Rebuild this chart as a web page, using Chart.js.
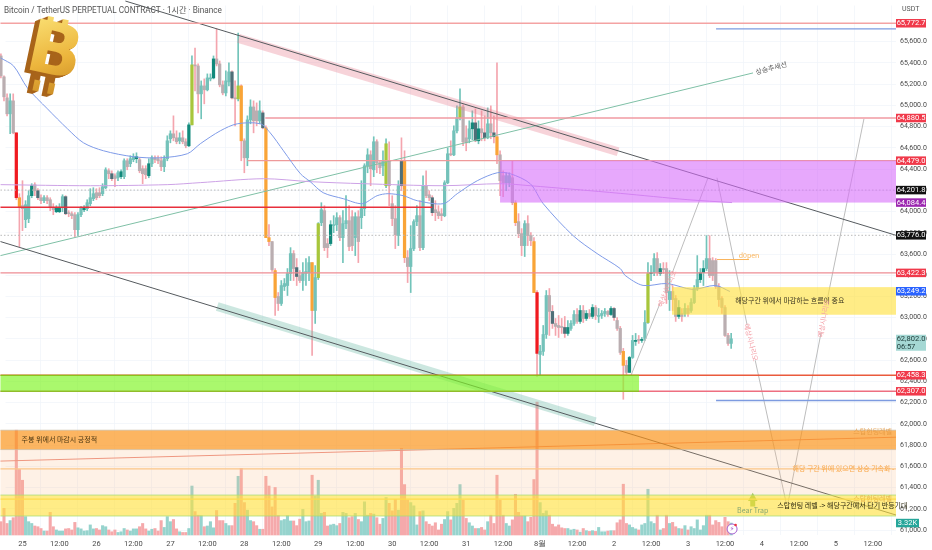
<!DOCTYPE html>
<html>
<head>
<meta charset="utf-8">
<style>
html, body { margin: 0; padding: 0; background: #fff; }
canvas { display: block; }
</style>
<script src="https://cdn.jsdelivr.net/npm/chart.js@4"></script>
</head>
<body>
<canvas id="chartCanvas" width="932" height="550"></canvas>
<script>
// hourly candles, first one is 7 hours before the "25" tick
const firstHour = -7;
const opens = [65465,65268,65070,64920,65042,64741,64130,64055,63923,63933,64149,64252,64196,64130,64102,64130,64111,64036,63998,63998,64036,64140,63989,63979,63970,63829,63970,64017,64027,64074,64121,64177,64177,64168,64224,64384,64356,64337,64318,64328,64328,64478,64450,64488,64497,64488,64403,64403,64337,64450,64506,64497,64478,64422,64497,64685,64732,64694,64666,64694,64657,64619,64816,65381,65371,65108,65183,65146,65249,65258,65437,65390,65193,65117,65221,65315,65070,65061,65183,64666,64506,64863,64985,64948,64854,64929,64788,63754,63717,63444,63200,63134,63294,63303,63416,63604,63472,63397,63350,63416,63425,63519,63068,63378,63895,64008,63698,63698,63867,63876,63942,63754,63886,63914,63951,63754,63951,63942,64027,64431,64534,64393,64657,64459,64431,64243,64478,64074,63933,63773,64478,64478,63566,63482,63651,63905,63961,63660,64243,64158,64130,64017,63998,63979,63961,64271,64544,64534,64760,64882,64985,64694,64685,64779,64835,64666,64779,64741,64694,64826,64741,64704,64534,64337,64271,64271,64318,64083,63905,63792,63679,63886,63773,63717,63237,62654,62683,62842,63209,63059,62946,62927,62918,62908,62852,62899,62946,63030,62965,63068,62993,63040,63012,63096,63012,63021,63040,63059,63030,63087,62974,62899,62683,62551,62485,62626,62777,62795,62786,62805,62955,63416,63425,63557,63416,63463,63463,63171,63247,63181,63012,63040,63040,63087,63068,63143,63275,63359,63425,63463,63557,63538,63538,63294,63181,63096,62833,62758];
const highs = [65484,65277,65108,65108,65108,64741,64168,64290,64102,64196,64262,64271,64215,64158,64149,64149,64130,64074,64055,64074,64158,64149,64008,63998,63989,63989,64046,64055,64111,64215,64224,64215,64224,64262,64412,64403,64384,64356,64384,64393,64497,64497,64525,64544,64553,64506,64431,64431,64497,64525,64525,64525,64516,64525,64713,64760,64901,64760,64741,64760,64685,64835,65465,65540,65390,65230,65249,65296,65296,65465,65719,65418,65230,65324,65399,65324,65230,65681,65193,64685,64901,65052,65042,65023,65042,64948,64807,63876,63717,63463,63237,63350,63369,63463,63660,63632,63557,63444,63519,63557,63576,63519,63491,63895,64083,64055,63745,63914,63961,63989,63961,64008,64149,64055,64008,63989,64008,64290,64450,64591,64572,64704,64676,64478,64572,64685,64657,64149,64055,64290,64694,64572,63632,63867,63923,64055,64102,64337,64384,64196,64149,64102,64055,64027,64290,64600,64666,64807,64995,65155,65004,64807,64854,64948,64967,64854,64948,64901,64976,64995,64901,65399,64572,64384,64365,64365,64478,64102,63980,63839,63914,63961,63801,63754,63256,62739,62927,63256,63275,63115,62993,63021,62993,63012,62974,62974,63068,63087,63115,63115,63068,63077,63124,63115,63087,63068,63087,63068,63106,63096,63002,62918,62711,62598,62636,62833,62852,62833,62814,63068,63519,63491,63604,63613,63510,63519,63519,63444,63303,63209,63162,63087,63134,63115,63181,63303,63585,63463,63538,63773,63773,63566,63557,63322,63200,63115,62852,62852];
const lows = [65258,65042,64901,64732,64732,64111,63670,63820,63848,63895,64130,64149,64111,64074,64083,64074,64008,63970,63989,63989,63998,63970,63951,63933,63764,63773,63951,63998,64008,64055,64102,64111,64130,64149,64215,64309,64290,64234,64290,64309,64309,64393,64422,64469,64459,64365,64262,64309,64318,64422,64459,64450,64384,64375,64478,64647,64666,64638,64638,64638,64600,64610,64816,65136,64929,64873,65014,65136,65230,65249,65371,65174,65099,65089,65183,65061,64807,65042,64478,64365,64431,64826,64741,64807,64826,64779,63754,63679,63435,63021,63068,63115,63256,63209,63350,63350,63303,63331,63256,63303,63350,62645,62946,63359,63867,63632,63566,63679,63801,63820,63726,63519,63839,63632,63632,63585,63519,63839,63961,64365,64243,64328,64365,64356,64337,64224,64055,63867,63651,63679,64196,63519,63331,63237,63632,63867,63632,63641,64130,64102,63961,63914,63933,63914,63951,64262,64525,64525,64741,64863,64619,64572,64647,64676,64657,64638,64666,64666,64685,64685,64647,64450,64149,64140,64196,64234,64064,63867,63754,63585,63576,63679,63679,63237,62448,62457,62645,62805,62833,62899,62833,62814,62852,62814,62833,62880,62927,62946,62946,62955,62974,62993,62993,62983,62955,62993,63012,63012,63021,62974,62880,62654,62232,62467,62485,62617,62739,62758,62767,62786,62946,63350,63397,63397,63397,63416,63134,63068,63068,62965,62993,62965,63012,63012,63049,63134,63256,63331,63303,63444,63378,63350,63275,63106,63040,62824,62739,62711];
const closes = [65277,65080,64920,65042,64741,64130,64036,64027,64064,64149,64243,64196,64130,64102,64130,64102,64036,64017,64036,64036,64140,63979,63979,63961,63829,63970,64036,64036,64083,64130,64168,64130,64149,64234,64393,64356,64309,64309,64365,64375,64478,64422,64497,64516,64516,64384,64356,64346,64450,64506,64488,64478,64422,64497,64666,64732,64694,64657,64694,64657,64619,64816,65381,65371,65108,65183,65146,65258,65258,65437,65390,65193,65117,65230,65315,65070,65061,65183,64666,64506,64863,64985,64854,64854,64948,64788,63754,63717,63453,63190,63134,63303,63322,63416,63604,63463,63388,63350,63425,63435,63519,63068,63378,63886,64017,63660,63660,63876,63876,63942,63754,63886,63914,63670,63679,63951,63717,64027,64431,64534,64403,64657,64459,64412,64478,64638,64243,63933,63782,64243,64243,63566,63482,63651,63905,63961,63660,64243,64149,64130,63989,63989,63961,63961,64271,64544,64534,64760,64882,64985,64657,64647,64779,64835,64666,64779,64741,64694,64826,64741,64704,64534,64290,64271,64337,64337,64083,63895,63792,63679,63886,63773,63726,63237,62664,62683,62842,63209,63059,62946,62918,62908,62908,62852,62908,62946,63030,62965,63068,62993,63040,63012,63096,63021,63021,63040,63059,63030,63087,63002,62899,62673,62551,62485,62626,62786,62786,62786,62795,62955,63416,63425,63557,63425,63463,63453,63237,63247,63171,63012,63096,63012,63087,63040,63143,63275,63359,63425,63463,63557,63397,63397,63294,63171,63096,62833,62758,62802];
// volume in K
const volumes = [3.7,7.4,3.2,4.0,4.8,29.1,18.2,15.2,5.1,3.7,3.2,2.5,2.3,1.8,1.1,1.1,6.3,2.3,1.4,1.1,1.1,1.7,1.8,1.4,3.5,2.0,1.7,1.1,1.2,2.8,1.7,1.8,1.4,2.6,2.3,1.4,0.9,1.4,0.7,0.9,1.8,1.4,1.1,1.7,1.7,2.3,3.2,1.7,1.1,1.6,1.8,1.1,4.0,2.1,5.1,3.7,4.3,1.7,0.9,0.7,0.7,1.8,13.6,6.5,5.5,5.4,2.3,2.5,3.7,2.0,6.8,4.0,4.0,3.2,2.6,2.6,8.8,16.3,18.5,9.0,6.9,4.0,3.7,2.6,1.6,1.6,16.3,13.6,7.8,13.2,5.4,4.0,4.3,5.4,3.9,3.9,2.6,4.4,7.1,3.7,3.9,16.6,10.8,15.2,6.0,6.3,2.5,2.8,3.0,2.6,3.2,6.3,6.0,4.8,5.1,6.0,4.3,3.7,9.2,5.5,6.0,5.8,4.8,3.0,4.6,10.4,8.8,6.7,9.9,6.9,24.0,14.0,9.7,9.0,8.1,2.8,6.5,6.7,3.7,3.0,2.5,3.4,1.4,3.0,4.3,6.5,4.2,7.4,8.8,14.0,9.7,4.6,3.4,2.5,1.8,1.8,2.1,1.4,3.7,5.5,3.2,16.6,9.7,5.5,3.2,2.5,4.2,11.3,6.3,5.3,5.3,3.7,4.9,15.4,36.9,9.0,6.0,6.7,5.5,3.0,2.3,2.8,2.0,1.8,1.8,1.4,1.6,1.4,0.8,1.8,1.2,1.0,1.2,1.0,2.1,0.9,0.9,1.1,1.2,1.2,3.4,4.2,14.1,3.2,2.8,2.1,1.7,1.4,2.8,3.2,12.7,3.7,3.2,5.5,1.4,1.8,5.5,3.2,3.5,2.3,1.8,1.7,2.6,1.4,2.3,1.8,4.2,1.4,2.6,5.5,5.5,2.8,4.0,3.5,2.3,4.9,3.7,3.32];

// candles the indicator paints differently (by hour)
const redCandles = [-2,167];
const orangeCandles = [-1,71,79,80,82,94,124,154,160,166,195];
const limeCandles = [55,70,96,118,142,203];
const darkCandles = [3,5,11,12,14,20,29,32,37,41,54,62,68,78,89,100,123,133,146,147,148,150,153,172,176,177,181,183,185,191,192,197,199,201,204,207,213,220,221];

// moving averages
const blueMaHours = [-7.1,-2.9,1.6,8.1,14.6,19.8,26.3,36,44.8,53.5,57.7,64.2,69.7,77.2,80.4,84.7,90.2,93.4,97.6,104.1,110.3,115.1,118.7,123.6,128.1,136.6,141.1,147.6,154.1,158.3,164.8,169,178.7,186.5,194,195.6,201.4,209.2,217.6,224.8,229.6];
const blueMaPrices = [65446,65371,65164,64967,64779,64647,64572,64516,64506,64544,64638,64760,64826,64826,64741,64572,64356,64281,64177,64121,64074,64149,64168,64149,64102,64074,64168,64290,64365,64356,64262,64074,63773,63604,63463,63398,63304,63322,63266,63304,63247];
const purpleMaHours = [-7.1,22,47,57.7,78.2,93.4,110.6,136.6,155,164.8,194,215.7,230.3];
const purpleMaPrices = [64253,64243,64253,64272,64309,64281,64262,64243,64262,64243,64171,64112,64084];

// horizontal levels
const levelPrices = [65772.7,65720,64880.5,64479,64040,64201.8,63776,63422.3,62458.3,62307,62220,61577,61292];
const levelStarts = [-7.14,225.1,78.8,73,-7.14,-7.14,-7.14,-7.14,-7.14,-7.14,225.1,-7.14,-7.14];
const levelEnds = [283.5,283.5,283.5,283.5,133,283.5,283.5,283.5,283.5,283.5,283.5,283.5,283.5];

// price boxes
const zoneTops = [64479,63288,62458.3,61941,61758,61330];
const zoneBottoms = [64084.4,63028,62307,61758,61330,61133];
const zoneStarts = [155,210.8,-7.14,-7.14,-7.14,-7.14];

// axis tags
const tagPrices = [65772.7,64880.5,64479,64201.8,64084.4,63776,63422.3,63249.2,62458.3,62307];
const tagLabels = ['65,772.7','64,880.5','64,479.0','64,201.8','64,084.4','63,776.0','63,422.3','63,249.2','62,458.3','62,307.0'];

const yTickValues = [61000,61200,61400,61600,61800,62000,62200,62400,62600,62800,63000,63200,63400,63600,63800,64000,64200,64400,64600,64800,65000,65200,65400,65600];
const xTickHours = [0,12,24,36,48,60,72,84,96,108,120,132,144,156,168,180,192,204,216,228,240,252,264,276];
const xTickLabels = ['25','12:00','26','12:00','27','12:00','28','12:00','29','12:00','30','12:00','31','12:00','8월','12:00','2','12:00','3','12:00','4','12:00','5','12:00'];

const hours = opens.map((_, i) => i + firstHour);

function bodyColor(i) {
    const h = hours[i];
    if (redCandles.includes(h)) return '#f01a20';
    if (orangeCandles.includes(h)) return '#f9a437';
    if (limeCandles.includes(h)) return '#a8c63c';
    if (darkCandles.includes(h)) return closes[i] >= opens[i] ? '#12897b' : '#4f6f78';
    return closes[i] >= opens[i] ? '#74c2ba' : '#baaeb1';
}

function line(xs, ys, color, width, extra) {
    return Object.assign({
        type: 'line',
        data: xs.map((x, i) => ({ x: x, y: ys[i] })),
        borderColor: color,
        borderWidth: width,
        pointRadius: 0,
        fill: false,
        clip: false,
        order: 3
    }, extra || {});
}

const datasets = [];

// volume
datasets.push({
    type: 'bar',
    yAxisID: 'yVol',
    data: hours.map((h, i) => ({ x: h, y: volumes[i] })),
    backgroundColor: hours.map((h, i) => closes[i] >= opens[i] ? '#96d3cd' : '#f5a9ab'),
    barThickness: 2.4,
    grouped: false,
    clip: false,
    order: 10
});
// wicks
datasets.push({
    type: 'bar',
    data: hours.map((h, i) => ({ x: h, y: [lows[i], highs[i]] })),
    backgroundColor: hours.map((h, i) => closes[i] >= opens[i] ? '#72c4ba' : '#f4a5ae'),
    barThickness: 1,
    grouped: false,
    clip: false,
    order: 6
});
// bodies
datasets.push({
    type: 'bar',
    data: hours.map((h, i) => ({ x: h, y: [opens[i], closes[i]] })),
    backgroundColor: hours.map((h, i) => bodyColor(i)),
    barThickness: 2.6,
    minBarLength: 1,
    grouped: false,
    clip: false,
    order: 5
});

datasets.push(line(blueMaHours, blueMaPrices, '#7f9be8', 1, { tension: 0.3 }));
datasets.push(line(purpleMaHours, purpleMaPrices, '#cda2e6', 1, { tension: 0.3 }));

const levelColors = ['#f4a3a3','#7d9be0','#f09aa2','#ee9a9a','#e8303c','#b9b9b9','#b9b9b9','#ee8d94','#ea5a3c','#ee6f80','#7d9be0','#fbc98a','#fdd36a'];
levelPrices.forEach((p, i) => {
    const dotted = i === 5 || i === 6;
    datasets.push(line([levelStarts[i], levelEnds[i]], [p, p], levelColors[i], (i === 5 || i === 6) ? 1 : 1.4, dotted ? { borderDash: [1.5, 2] } : null));
});

// trend lines and channels
datasets.push(line([33.4, 283.5], [65982, 63776], '#555a5e', 1));
datasets.push(line([-7.14, 283.5], [63717, 61142], '#555a5e', 1));
datasets.push(line([-7.14, 237.1], [63585, 65305], '#7fc0a6', 1));
datasets.push(line([70.1, 193.3], [65630, 64563], 'rgba(232,130,145,0.35)', 9, { order: 4, borderCapStyle: 'butt' }));
datasets.push(line([63.2, 185.9], [63106, 62021], 'rgba(110,185,165,0.35)', 9, { order: 4, borderCapStyle: 'butt' }));
datasets.push(line([-7.14, 283.5], [61650, 61875], '#ec8f80', 1));
datasets.push(line([225.4, 235.8], [63548, 63548], '#f9b45c', 1));

// scenario paths, null = gap where the rotated text sits
datasets.push(line([197.5, 206.9, 208, 210.8, 222.5], [62458, 63134, null, 63416, 64318], '#bdbdbd', 1));
datasets.push(line([225.4, 235.2, 236.5, 237.8, 247.8], [64318, 62928, null, 62599, 61264], '#bdbdbd', 1));
datasets.push(line([248.5, 259.2, 260, 260.8, 273.1], [61264, 62862, null, 63116, 64873], '#bdbdbd', 1));

// bear trap arrow
datasets.push(line([237, 237], [61222, 61280], '#8fc65a', 5, { borderCapStyle: 'butt' }));
datasets.push({
    type: 'line',
    data: [{ x: 237, y: 61300 }],
    pointStyle: 'triangle',
    pointRadius: 5.5,
    pointBackgroundColor: '#8fc65a',
    pointBorderWidth: 0,
    order: 3
});

const textNotes = [
    { t: '상승추세선', h: 243, p: 65352, rot: -15, c: '#555', a: 'center' },
    { t: '해당구간 위에서 마감하는 흐름이 중요', h: 231.3, p: 63163, rot: 0, c: '#3a3520', a: 'left' },
    { t: '주봉 위에서 마감시 긍정적', h: -0.3, p: 61856, rot: 0, c: '#4a3510', a: 'left' },
    { t: '해당 구간 위에 있으면 상승 가속화 -', h: 283, p: 61584, rot: 0, c: '#f9a84b', a: 'right' },
    { t: '스탑헌팅 레벨 -> 해당구간에서 단기 반등기대', h: 245, p: 61236, rot: 0, c: '#2e2a10', a: 'left' },
    { t: '스탑헌팅레벨', h: 282.2, p: 61931, rot: 0, c: 'rgba(225,150,60,0.75)', a: 'right' },
    { t: '스탑헌팅레벨', h: 282.2, p: 61300, rot: 0, c: 'rgba(225,170,60,0.75)', a: 'right' },
    { t: 'Bear Trap', h: 237, p: 61189, rot: 0, c: '#86a772', a: 'center' },
    { t: 'd0pen', h: 235.8, p: 63585, rot: 0, c: '#f9b45c', a: 'center' },
    { t: '예상시나리오', h: 209.2, p: 63275, rot: -68, c: '#f4a0a8', a: 'center' },
    { t: '예상시나리오', h: 236.5, p: 62768, rot: 76, c: '#f4a0a8', a: 'center' },
    { t: '예상시나리오', h: 260, p: 62993, rot: -80, c: '#f4a0a8', a: 'center' }
];

const zoneFills = ['rgba(215,110,250,0.6)','rgba(255,225,60,0.62)','rgba(130,245,40,0.68)','rgba(251,150,30,0.7)','rgba(250,185,130,0.2)','rgba(255,225,60,0.62)'];
const zoneEdges = [null,null,'rgba(120,205,20,0.9)','rgba(200,190,170,0.7)',null,'rgba(170,220,120,0.8)'];
const tagColors = ['#f0394a','#f0394a','#f0394a','#111','#9c27b0','#111','#f0394a','#2962ff','#f0394a','#f0394a'];
const krFont = '"Noto Sans CJK KR", sans-serif';

function drawTag(ctx, x, y, w, h, bg, fg, txt) {
    ctx.fillStyle = bg;
    ctx.fillRect(x, y - h / 2, w, h);
    ctx.fillStyle = fg;
    ctx.fillText(txt, x + w / 2, y + 0.3);
}

const overlayPlugin = {
    id: 'overlay',
    afterDatasetsDraw(chart) {
        const ctx = chart.ctx;
        const xs = chart.scales.x;
        const ys = chart.scales.y;
        const area = chart.chartArea;
        ctx.save();

        // zones
        zoneTops.forEach((top, i) => {
            const x0 = xs.getPixelForValue(zoneStarts[i]);
            const y0 = ys.getPixelForValue(top);
            const y1 = ys.getPixelForValue(zoneBottoms[i]);
            // green box stops at the last hours of day 2
            const x1 = i === 2 ? xs.getPixelForValue(200.1) : area.right;
            ctx.fillStyle = zoneFills[i];
            ctx.fillRect(x0, y0, x1 - x0, y1 - y0);
            if (zoneEdges[i]) {
                ctx.strokeStyle = zoneEdges[i];
                ctx.lineWidth = 1;
                ctx.beginPath();
                ctx.moveTo(x0, y0); ctx.lineTo(x1, y0);
                ctx.moveTo(x0, y1); ctx.lineTo(x1, y1);
                ctx.stroke();
            }
        });

        // text notes
        ctx.textBaseline = 'middle';
        textNotes.forEach(n => {
            ctx.save();
            ctx.translate(xs.getPixelForValue(n.h), ys.getPixelForValue(n.p));
            ctx.rotate(n.rot * Math.PI / 180);
            ctx.font = '7px ' + krFont;
            ctx.textAlign = n.a;
            ctx.fillStyle = n.c;
            ctx.fillText(n.t, 0, 0);
            ctx.restore();
        });

        // axis tags
        ctx.font = '7.5px Roboto';
        ctx.textAlign = 'center';
        tagPrices.forEach((p, i) => {
            drawTag(ctx, area.right, ys.getPixelForValue(p), 30, 8.5, tagColors[i], '#fff', tagLabels[i]);
        });
        // last price tag with countdown
        const lastY = ys.getPixelForValue(closes[closes.length - 1]);
        ctx.fillStyle = '#a5d8d4';
        ctx.fillRect(area.right, lastY - 4, 30, 16);
        ctx.fillStyle = '#23403e';
        ctx.fillText('62,802.0', area.right + 15, lastY + 0.5);
        ctx.fillText('06:57', area.right + 10, lastY + 8);
        // last volume tag
        const volY = chart.scales.yVol.getPixelForValue(volumes[volumes.length - 1]);
        drawTag(ctx, area.right, volY, 23, 8.5, '#26a69a', '#fff', '3.32K');

        // header
        ctx.textAlign = 'left';
        ctx.fillStyle = '#555';
        ctx.font = '8.2px Roboto, ' + krFont;
        ctx.fillText('Bitcoin / TetherUS PERPETUAL CONTRACT · 1시간 · Binance', 4, 11);
        ctx.font = '7px Roboto';
        ctx.fillText('USDT', 902, 9);

        // coin logo
        ctx.save();
        ctx.translate(54, 56);
        ctx.rotate(12 * Math.PI / 180);
        ctx.font = 'bold 72px "DejaVu Sans"';
        ctx.textAlign = 'center';
        ctx.fillStyle = '#a8641a';
        for (let d = 5; d > 0; d--) {
            ctx.fillText('B', -d, d * 0.7);
            ctx.fillRect(-14 - d, -38 + d * 0.7, 6, 76);
            ctx.fillRect(1 - d, -38 + d * 0.7, 6, 76);
        }
        const gold = ctx.createLinearGradient(-20, -36, 20, 36);
        gold.addColorStop(0, '#f9dd70');
        gold.addColorStop(0.55, '#ecb53c');
        gold.addColorStop(1, '#c98a24');
        ctx.fillStyle = gold;
        ctx.fillRect(-14, -38, 6, 10);
        ctx.fillRect(1, -38, 6, 10);
        ctx.fillRect(-14, 27, 6, 11);
        ctx.fillRect(1, 27, 6, 11);
        ctx.fillText('B', 0, 0);
        ctx.restore();

        // small bolt badge near the last bar
        const bx = xs.getPixelForValue(230.3);
        const by = chart.scales.yVol.getPixelForValue(0) - 6;
        ctx.beginPath();
        ctx.arc(bx, by, 5, 0, Math.PI * 2);
        ctx.fillStyle = '#fff';
        ctx.fill();
        ctx.strokeStyle = '#a45ed0';
        ctx.lineWidth = 1;
        ctx.stroke();
        ctx.fillStyle = '#a45ed0';
        ctx.font = '7px "DejaVu Sans"';
        ctx.textAlign = 'center';
        ctx.fillText('⚡', bx, by + 0.5);
        ctx.beginPath();
        ctx.arc(bx + 3.5, by - 4, 1.3, 0, Math.PI * 2);
        ctx.fillStyle = '#ef3340';
        ctx.fill();

        ctx.restore();
    }
};

function noPadding(scale) {
    scale.paddingLeft = 0;
    scale.paddingRight = 0;
    scale.paddingTop = 0;
    scale.paddingBottom = 0;
}

new Chart(document.getElementById('chartCanvas').getContext('2d'), {
    type: 'bar',
    data: { datasets: datasets },
    plugins: [overlayPlugin],
    options: {
        responsive: false,
        animation: false,
        layout: { padding: 0 },
        plugins: { legend: { display: false }, tooltip: { enabled: false }, title: { display: false } },
        scales: {
            x: {
                type: 'linear',
                offset: false,
                // the layout keeps a small gap on the left, marks run past it with clip off
                min: -5.51,
                max: 283.5,
                grid: { color: 'rgba(240,243,250,0.7)', drawTicks: false },
                border: { display: false },
                afterBuildTicks: function(scale) {
                    scale.ticks = xTickHours.map(v => ({ value: v }));
                },
                afterFit: function(scale) {
                    scale.height = 15;
                    noPadding(scale);
                },
                ticks: {
                    autoSkip: false,
                    maxRotation: 0,
                    padding: 5,
                    color: '#4a4a4a',
                    font: { family: 'Roboto', size: 7.5 },
                    callback: function(value) {
                        const idx = xTickHours.indexOf(value);
                        return idx >= 0 ? xTickLabels[idx] : '';
                    }
                }
            },
            y: {
                position: 'right',
                min: 60954,
                max: 65940,
                grid: { color: 'rgba(240,243,250,0.7)', drawTicks: false },
                border: { display: false },
                afterBuildTicks: function(scale) {
                    scale.ticks = yTickValues.map(v => ({ value: v }));
                },
                afterFit: function(scale) {
                    scale.width = 36;
                    noPadding(scale);
                },
                ticks: {
                    autoSkip: false,
                    padding: 4,
                    color: '#4a4a4a',
                    font: { family: 'Roboto', size: 7 },
                    callback: function(value) {
                        return value.toLocaleString('en-US', { minimumFractionDigits: 1 });
                    }
                }
            },
            yVol: {
                display: false,
                position: 'right',
                min: 0,
                max: 147,
                ticks: { display: false },
                afterFit: function(scale) {
                    scale.width = 0;
                    noPadding(scale);
                }
            }
        }
    }
});
</script>
</body>
</html>
